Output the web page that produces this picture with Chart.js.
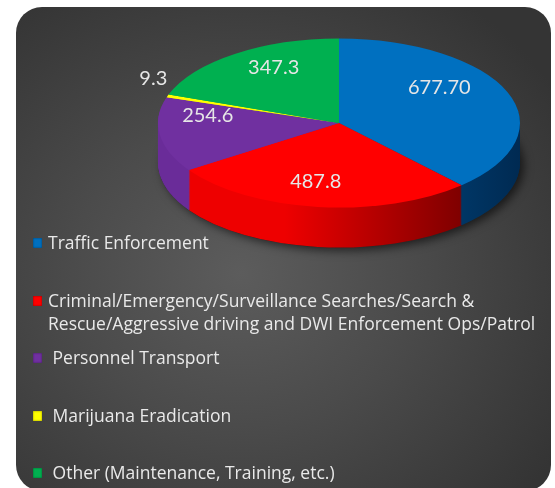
<!DOCTYPE html>
<html>
<head>
<meta charset="utf-8">
<script src="https://cdn.jsdelivr.net/npm/chart.js@4.4.1/dist/chart.umd.min.js"></script>
<style>
  html, body { margin: 0; padding: 0; background: #ffffff; }
  #wrap { position: relative; width: 555px; height: 488px; overflow: hidden; }
  #panel {
    position: absolute; left: 16px; top: 7px; width: 535px; height: 484px;
    border-radius: 26px;
    background: radial-gradient(ellipse 70% 70% at 42% 55%, #5c5c5c 0%, #4b4b4b 45%, #343434 100%);
  }
  #grafico { position: absolute; left: 0; top: 0; }
  #legenda {
    position: absolute; left: 33px; top: 231px;
    font-family: "Open Sans", Lato, sans-serif; font-size: 17.5px; color: #e9e9e9;
  }
  .item { position: relative; height: 57.5px; padding-left: 15px; line-height: 23px; white-space: pre; }
  .marca { position: absolute; left: 0; top: 7px; width: 9px; height: 10px; box-shadow: inset 0 0 2px rgba(0,0,0,0.5); }
</style>
</head>
<body>
<div id="wrap">
  <div id="panel"></div>
  <canvas id="grafico" width="555" height="488"></canvas>
  <div id="legenda"></div>
</div>
<script>
// dados
const categorias = [
  'Traffic Enforcement',
  'Criminal/Emergency/Surveillance Searches/Search &\nRescue/Aggressive driving and DWI Enforcement Ops/Patrol',
  ' Personnel Transport',
  ' Marijuana Eradication',
  ' Other (Maintenance, Training, etc.)'
];
const valores = [677.70, 487.8, 254.6, 9.3, 347.3];
const rotulos = ['677.70', '487.8', '254.6', '9.3', '347.3'];

// cores
const coresTopo = ['#0070c0', '#ff0000', '#7030a0', '#ffff00', '#00b050'];
const coresLadoClaro = ['#005ba0', '#ee0000', '#6a2c99', '#e0e000', '#00a048'];
const coresLadoEscuro = ['#002a52', '#5a0000', '#3a1560', '#808000', '#005020'];

const CENTRO_Y = 123;   // centro da elipse do topo
const ACHATAR = 0.467;  // ry / rx
const PROFUNDIDADE = 40;

function projetar(ctx, arco, dy) {
  ctx.translate(arco.x, CENTRO_Y + dy);
  ctx.scale(1, ACHATAR);
  ctx.translate(-arco.x, -arco.y);
}

const pizza3d = {
  id: 'pizza3d',
  beforeDatasetsDraw(chart) {
    const ctx = chart.ctx;
    const arcos = chart.getDatasetMeta(0).data;
    const a0 = arcos[0];
    const R = a0.outerRadius;

    // sombra
    ctx.save();
    projetar(ctx, a0, PROFUNDIDADE);
    ctx.shadowColor = 'rgba(0,0,0,0.6)';
    ctx.shadowBlur = 10;
    ctx.shadowOffsetX = 4;
    ctx.shadowOffsetY = 3;
    ctx.fillStyle = '#222';
    ctx.beginPath();
    ctx.arc(a0.x, a0.y, R, 0, Math.PI * 2);
    ctx.fill();
    ctx.restore();

    // laterais
    const gradientes = coresLadoClaro.map((c, i) => {
      const g = ctx.createLinearGradient(a0.x - R, 0, a0.x + R, 0);
      g.addColorStop(0, c);
      g.addColorStop(0.35, c);
      g.addColorStop(1, coresLadoEscuro[i]);
      return g;
    });
    for (let d = PROFUNDIDADE; d >= 1; d--) {
      ctx.save();
      projetar(ctx, a0, d);
      arcos.forEach((arco, i) => {
        const orig = arco.options;
        arco.options = Object.assign({}, orig, { backgroundColor: gradientes[i], borderWidth: 0 });
        arco.draw(ctx);
        arco.options = orig;
      });
      ctx.restore();
    }

    // topo
    ctx.save();
    projetar(ctx, a0, 0);
  },
  afterDatasetsDraw(chart) {
    const ctx = chart.ctx;
    ctx.restore();

    const arcos = chart.getDatasetMeta(0).data;
    const total = valores.reduce((s, v) => s + v, 0);
    ctx.save();
    ctx.font = '20px Lato, "Open Sans", sans-serif';
    ctx.fillStyle = '#e6e6e6';
    ctx.textAlign = 'center';
    ctx.textBaseline = 'middle';
    arcos.forEach((arco, i) => {
      const p = arco.getProps(['x', 'startAngle', 'endAngle', 'outerRadius']);
      const meio = (p.startAngle + p.endAngle) / 2;
      const frac = valores[i] / total < 0.02 ? 1.12 : 0.68;
      const s = Math.sin(meio), c = Math.cos(meio);
      const persp = 1 + 0.2 * s;
      const r = p.outerRadius * frac;
      const x = p.x + r * c * persp - 6;
      const y = (CENTRO_Y - 16) + r * ACHATAR * s * persp + (s > 0.5 ? 6 : 0);
      ctx.fillText(rotulos[i], x, y);
    });
    ctx.restore();
  }
};

const ctx = document.getElementById('grafico').getContext('2d');
new Chart(ctx, {
  type: 'pie',
  data: {
    labels: categorias,
    datasets: [{
      data: valores,
      backgroundColor: coresTopo,
      borderWidth: 0,
      clip: false
    }]
  },
  options: {
    responsive: false,
    animation: false,
    layout: { padding: { left: 158, right: 35, top: 0, bottom: 126 } },
    plugins: {
      legend: { display: false },
      tooltip: { enabled: false }
    }
  },
  plugins: [pizza3d]
});

// legenda
const legenda = document.getElementById('legenda');
legenda.innerHTML = categorias.map((nome, i) => {
  return `<div class="item"><span class="marca" style="background:${coresTopo[i]}"></span>${nome}</div>`;
}).join('');
</script>
</body>
</html>
